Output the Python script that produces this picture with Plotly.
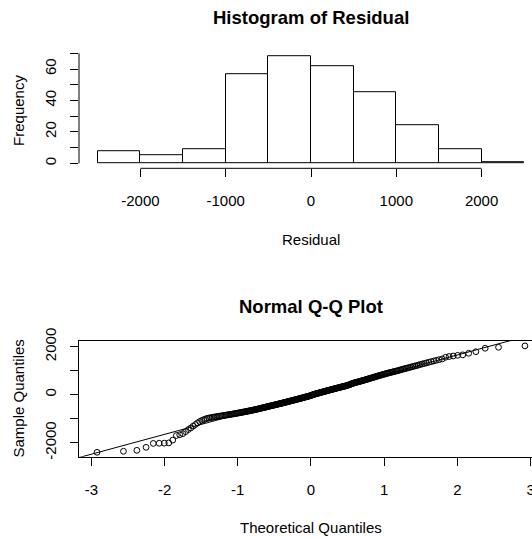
import numpy as np
import plotly.graph_objects as go
from statistics import NormalDist

# Sorted model residuals (n = 288)
residual = [
    -2400, -2358, -2317, -2192, -2030, -2024, -2018, -2008,
    -1890, -1700, -1668, -1622, -1540,
    -1452, -1385, -1310, -1240, -1175, -1118, -1074, -1042, -1012,
    -990, -971, -957, -946, -934, -923, -914, -902, -893, -884,
    -875, -866, -859, -850, -841, -834, -826, -817, -809, -800,
    -792, -785, -777, -768, -760, -752, -745, -736, -728, -720,
    -712, -704, -697, -689, -681, -673, -666, -658, -650, -642,
    -634, -627, -619, -611, -603, -595, -587, -579, -570, -562,
    -554, -546, -539, -531, -523, -514, -506,
    -497, -489, -482, -476, -468, -461, -453, -446, -440, -432,
    -425, -417, -410, -403, -396, -389, -381, -374, -367, -360,
    -353, -346, -338, -331, -325, -317, -310, -303, -296, -289,
    -282, -275, -267, -260, -253, -246, -239, -232, -225, -218,
    -211, -203, -196, -189, -182, -175, -168, -161, -154, -146,
    -139, -132, -125, -118, -110, -103, -96, -89, -82, -75,
    -67, -60, -53, -45, -37, -28, -18, -8,
    6, 13, 21, 28, 36, 43, 50, 58, 65, 73,
    80, 87, 95, 102, 109, 117, 124, 131, 139, 146,
    153, 161, 168, 176, 183, 190, 198, 205, 212, 220,
    227, 234, 242, 249, 257, 264, 271, 279, 286, 293,
    301, 308, 316, 323, 330, 338, 345, 352, 360, 367,
    375, 383, 392, 404, 417, 429, 440, 452, 463, 474,
    485, 495,
    506, 514, 522, 530, 539, 548, 557, 566, 575, 585,
    595, 605, 615, 625, 636, 647, 658, 669, 680, 691,
    702, 714, 726, 737, 749, 761, 773, 785, 797, 809,
    821, 833, 846, 858, 870, 882, 895, 907, 919, 931,
    944, 956, 968, 981, 994,
    1008, 1025, 1041, 1058, 1072, 1089, 1104, 1121, 1138, 1157,
    1176, 1194, 1213, 1235, 1258, 1280, 1301, 1326, 1350, 1376,
    1404, 1432, 1461, 1490,
    1560, 1590, 1612, 1640, 1660, 1725, 1790, 1935, 1975,
    2033,
]

# Histogram bins and axis ticks
bin_start, bin_end, bin_size = -2500, 2500, 500
hist_xticks = [-2000, -1000, 0, 1000, 2000]
hist_yticks = [0, 10, 20, 30, 40, 50, 60, 70]
hist_ylabels = ["0", "", "20", "", "40", "", "60", ""]
qq_xticks = [-3, -2, -1, 0, 1, 2, 3]
qq_yticks = [-2000, -1000, 0, 1000, 2000]
qq_ylabels = ["-2000", "", "0", "", "2000"]

# Axis ranges
hist_xrange = [-2720, 2591]
hist_yrange = [-3.18, 70.7]
qq_xrange = [-3.169, 3.019]
qq_yrange = [-2583, 2237]

W, H = 532, 537
LEFT = 79
FONT = "Liberation Sans, Arial, Helvetica, sans-serif"
BLACK = "#000000"


def ypaper(px):
    return 1 - px / H


# Normal scores (ppoints) and reference line through the quartiles
nd = NormalDist()
n = len(residual)
theoretical = [nd.inv_cdf((k + 0.5) / n) for k in range(n)]
q1, q3 = np.percentile(residual, [25, 75])
z1, z3 = nd.inv_cdf(0.25), nd.inv_cdf(0.75)
slope = (q3 - q1) / (z3 - z1)
intercept = q1 - slope * z1
line_x = [qq_xrange[0] - 0.5, qq_xrange[1] + 0.5]
line_y = [intercept + slope * v for v in line_x]

fig = go.Figure()

fig.add_trace(go.Histogram(
    x=residual,
    xbins=dict(start=bin_start, end=bin_end, size=bin_size),
    marker=dict(color="white", line=dict(color=BLACK, width=1)),
    xaxis="x", yaxis="y", showlegend=False,
))

fig.add_trace(go.Scatter(
    x=line_x, y=line_y, mode="lines",
    line=dict(color=BLACK, width=1),
    xaxis="x2", yaxis="y2", showlegend=False, hoverinfo="skip",
))

fig.add_trace(go.Scatter(
    x=theoretical, y=residual, mode="markers",
    marker=dict(symbol="circle-open", size=5.8, color=BLACK,
                line=dict(color=BLACK, width=1)),
    xaxis="x2", yaxis="y2", showlegend=False,
))

tick_font = dict(family=FONT, size=15, color=BLACK)
common = dict(showgrid=False, zeroline=False, ticks="outside", ticklen=8,
              tickwidth=1, tickcolor=BLACK, tickfont=tick_font,
              automargin=False)

hist_dom = [ypaper(168.3), ypaper(52.2)]
qq_dom = [ypaper(456.7), ypaper(341.0)]

fig.update_layout(
    template="none",
    width=W, height=H,
    margin=dict(l=LEFT, r=0, t=0, b=0, pad=0, autoexpand=False),
    paper_bgcolor="white", plot_bgcolor="white",
    bargap=0,
    font=dict(family=FONT, color=BLACK),
    xaxis=dict(domain=[0, 1], anchor="y", range=hist_xrange,
               tickmode="array", tickvals=hist_xticks,
               ticktext=[str(v) for v in hist_xticks],
               showline=False, ticklabelstandoff=11, **common),
    yaxis=dict(domain=hist_dom, anchor="x", range=hist_yrange,
               tickmode="array", tickvals=hist_yticks, ticktext=hist_ylabels,
               tickangle=-90, showline=False, ticklabelstandoff=8, **common),
    xaxis2=dict(domain=[0, 1], anchor="y2", range=qq_xrange,
                tickmode="array", tickvals=qq_xticks,
                ticktext=[str(v) for v in qq_xticks],
                showline=True, mirror=True, linecolor=BLACK, linewidth=1,
                ticklabelstandoff=11, ticklabeloverflow="allow", **common),
    yaxis2=dict(domain=qq_dom, anchor="x2", range=qq_yrange,
                tickmode="array", tickvals=qq_yticks, ticktext=qq_ylabels,
                tickangle=-90, showline=True, mirror=False,
                linecolor=BLACK, linewidth=1, ticklabelstandoff=8, **common),
)

# Axis lines of the histogram span only the labelled tick range
fig.add_shape(type="line", xref="x", yref="y domain",
              x0=hist_xticks[0], x1=hist_xticks[-1], y0=0, y1=0,
              line=dict(color=BLACK, width=1))
fig.add_shape(type="line", xref="x domain", yref="y",
              x0=0, x1=0, y0=hist_yticks[0], y1=hist_yticks[-1],
              line=dict(color=BLACK, width=1))

title_font = dict(family=FONT, size=18.5, color=BLACK)
label_font = dict(family=FONT, size=15, color=BLACK)
ylab_x = (18.7 - LEFT) / (W - LEFT)

annotations = [
    dict(text="<b>Histogram of Residual</b>", xref="x", x=0,
         yref="paper", y=ypaper(17.5), font=title_font),
    dict(text="<b>Normal Q-Q Plot</b>", xref="x2", x=0,
         yref="paper", y=ypaper(306.0), font=title_font),
    dict(text="Residual", xref="x", x=0,
         yref="paper", y=ypaper(239.0), font=label_font),
    dict(text="Theoretical Quantiles", xref="x2", x=0,
         yref="paper", y=ypaper(527.0), font=label_font),
    dict(text="Frequency", xref="paper", x=ylab_x,
         yref="y domain", y=0.5, textangle=-90, font=label_font),
    dict(text="Sample Quantiles", xref="paper", x=ylab_x,
         yref="y2 domain", y=0.5, textangle=-90, font=label_font),
]
for a in annotations:
    a.update(showarrow=False, xanchor="center", yanchor="middle")
fig.update_layout(annotations=annotations)

fig.write_html("out.html", config={"displayModeBar": False})
